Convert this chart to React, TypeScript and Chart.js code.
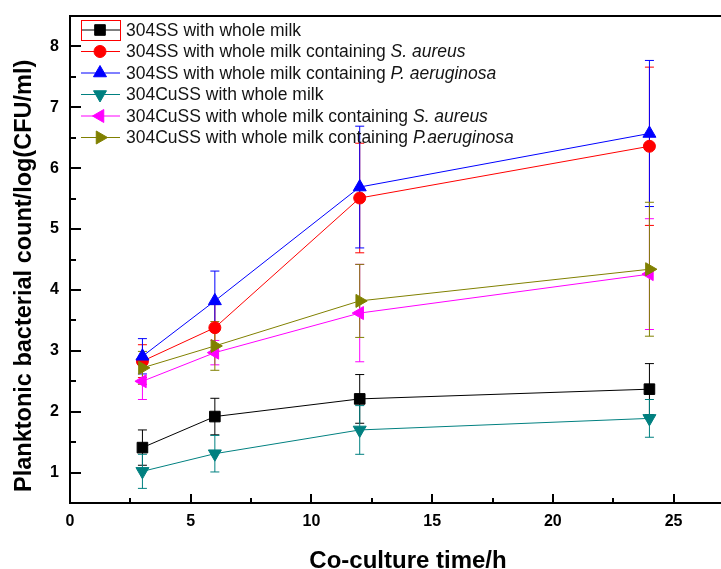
import React, { useEffect, useRef } from 'react';
import { Chart, registerables } from 'chart.js';
import { drawPoint } from 'chart.js/helpers';

Chart.register(...registerables);

// ---- data ----
const timePoints = [3, 6, 12, 24];

const ssMilk = [1.41, 1.92, 2.21, 2.37];
const ssMilkErr = [0.29, 0.3, 0.4, 0.42];
const ssAureus = [2.83, 3.38, 5.51, 6.36];
const ssAureusErr = [0.27, 0.38, 0.9, 1.3];
const ssAerug = [2.91, 3.82, 5.69, 6.57];
const ssAerugErr = [0.29, 0.49, 1.0, 1.2];
const cussMilk = [1.02, 1.31, 1.7, 1.89];
const cussMilkErr = [0.28, 0.3, 0.4, 0.31];
const cussAureus = [2.5, 2.97, 3.62, 4.26];
const cussAureusErr = [0.3, 0.2, 0.8, 0.91];
const cussAerug = [2.72, 3.08, 3.82, 4.34];
const cussAerugErr = [0.27, 0.4, 0.6, 1.1];

const xTicks = [0, 5, 10, 15, 20, 25];
const xMinorTicks = [2.5, 7.5, 12.5, 17.5, 22.5, 27.5];
const yTicks = [1, 2, 3, 4, 5, 6, 7, 8];
const yMinorTicks = [1.5, 2.5, 3.5, 4.5, 5.5, 6.5, 7.5];

const xTitle = 'Co-culture time/h';
const yTitle = 'Planktonic bacterial count/log(CFU/ml)';

type Seg = { t: string; i?: boolean };
const labelSS1: Seg[] = [{ t: '304SS with whole milk' }];
const labelSS2: Seg[] = [{ t: '304SS with whole milk containing ' }, { t: 'S. aureus', i: true }];
const labelSS3: Seg[] = [{ t: '304SS with whole milk containing ' }, { t: 'P. aeruginosa', i: true }];
const labelCu1: Seg[] = [{ t: '304CuSS with whole milk' }];
const labelCu2: Seg[] = [{ t: '304CuSS with whole milk containing ' }, { t: 'S. aureus', i: true }];
const labelCu3: Seg[] = [{ t: '304CuSS with whole milk containing ' }, { t: 'P.aeruginosa', i: true }];

const FONT = "'Liberation Sans', Arial, sans-serif";

const series = [
  { seg: labelSS1, values: ssMilk, errors: ssMilkErr, color: '#000000', style: 'rect', rot: 0, r: 7.5 },
  { seg: labelSS2, values: ssAureus, errors: ssAureusErr, color: '#ff0000', style: 'circle', rot: 0, r: 6 },
  { seg: labelSS3, values: ssAerug, errors: ssAerugErr, color: '#0000ff', style: 'triangle', rot: 0, r: 7.5 },
  { seg: labelCu1, values: cussMilk, errors: cussMilkErr, color: '#008080', style: 'triangle', rot: 180, r: 7.5 },
  { seg: labelCu2, values: cussAureus, errors: cussAureusErr, color: '#ff00ff', style: 'triangle', rot: -90, r: 7.5 },
  { seg: labelCu3, values: cussAerug, errors: cussAerugErr, color: '#808000', style: 'triangle', rot: 90, r: 7.5 },
];

const errorBarPlugin = {
  id: 'errorBars',
  beforeDatasetsDraw(chart: any) {
    const { ctx, scales } = chart;
    const xs = scales.x;
    const ys = scales.y;
    ctx.save();
    ctx.lineWidth = 1;
    chart.data.datasets.forEach((ds: any) => {
      ctx.strokeStyle = ds.borderColor;
      ds.data.forEach((p: any, j: number) => {
        const e = ds.errors[j];
        const px = xs.getPixelForValue(p.x);
        const top = ys.getPixelForValue(p.y + e);
        const bot = ys.getPixelForValue(p.y - e);
        ctx.beginPath();
        ctx.moveTo(px, top);
        ctx.lineTo(px, bot);
        ctx.moveTo(px - 4.5, top);
        ctx.lineTo(px + 4.5, top);
        ctx.moveTo(px - 4.5, bot);
        ctx.lineTo(px + 4.5, bot);
        ctx.stroke();
      });
    });
    ctx.restore();
  },
};

const framePlugin = {
  id: 'frameTicks',
  afterDraw(chart: any) {
    const { ctx, chartArea, scales } = chart;
    const xs = scales.x;
    const ys = scales.y;
    const { left, right, top, bottom } = chartArea;
    ctx.save();
    ctx.strokeStyle = '#000';
    ctx.lineWidth = 2;
    ctx.beginPath();
    ctx.moveTo(left - 1, top);
    ctx.lineTo(right + 1, top);
    ctx.moveTo(right, top);
    ctx.lineTo(right, bottom);
    ctx.stroke();
    ctx.beginPath();
    xTicks.forEach((v) => {
      const px = Math.round(xs.getPixelForValue(v));
      ctx.moveTo(px, bottom);
      ctx.lineTo(px, bottom - 9);
    });
    xMinorTicks.forEach((v) => {
      const px = Math.round(xs.getPixelForValue(v));
      ctx.moveTo(px, bottom);
      ctx.lineTo(px, bottom - 5);
    });
    yTicks.forEach((v) => {
      const py = Math.round(ys.getPixelForValue(v));
      ctx.moveTo(left, py);
      ctx.lineTo(left + 11, py);
    });
    yMinorTicks.forEach((v) => {
      const py = Math.round(ys.getPixelForValue(v));
      ctx.moveTo(left, py);
      ctx.lineTo(left + 6, py);
    });
    ctx.stroke();
    ctx.restore();
  },
};

const legendPlugin = {
  id: 'customLegend',
  afterDraw(chart: any) {
    const { ctx, chartArea } = chart;
    const { left, top } = chartArea;
    ctx.save();
    chart.data.datasets.forEach((ds: any, i: number) => {
      const y = top + 14 + i * 21.5;
      ctx.strokeStyle = ds.borderColor;
      ctx.fillStyle = ds.borderColor;
      ctx.lineWidth = 1;
      ctx.beginPath();
      ctx.moveTo(left + 11, y);
      ctx.lineTo(left + 50, y);
      ctx.stroke();
      drawPoint(ctx, { pointStyle: ds.pointStyle, rotation: ds.pointRotation, radius: ds.pointRadius, borderWidth: 1 } as any, left + 30, y);
      let tx = left + 56;
      ctx.fillStyle = '#141414';
      ctx.textBaseline = 'middle';
      ctx.textAlign = 'left';
      (ds.segments as Seg[]).forEach((s) => {
        ctx.font = (s.i ? 'italic ' : '') + '17.5px ' + FONT;
        ctx.fillText(s.t, tx, y + 1);
        tx += ctx.measureText(s.t).width;
      });
    });
    // selection box around first legend symbol
    ctx.strokeStyle = '#ff0000';
    ctx.lineWidth = 1;
    ctx.strokeRect(left + 11.5, top + 4.5, 39, 20);
    ctx.restore();
  },
};

export default function App() {
  const ref = useRef<HTMLCanvasElement | null>(null);
  useEffect(() => {
    if (!ref.current) return;
    const chart = new Chart(ref.current, {
      type: 'line',
      data: {
        datasets: series.map((s, i) => ({
          label: s.seg.map((g) => g.t).join(''),
          segments: s.seg,
          errors: s.errors,
          data: timePoints.map((t, j) => ({ x: t, y: s.values[j] })),
          borderColor: s.color,
          backgroundColor: s.color,
          pointBackgroundColor: s.color,
          pointBorderColor: s.color,
          pointStyle: s.style,
          pointRotation: s.rot,
          pointRadius: s.r,
          pointBorderWidth: 1,
          borderWidth: 1,
          fill: false,
          tension: 0,
          order: series.length - i,
        })) as any,
      },
      options: {
        animation: false,
        responsive: false,
        maintainAspectRatio: false,
        layout: { padding: { left: 0, top: 16, right: 34, bottom: 0 } },
        plugins: { legend: { display: false }, tooltip: { enabled: false } },
        scales: {
          x: {
            type: 'linear',
            min: 0,
            max: 28,
            afterBuildTicks: (s: any) => {
              s.ticks = xTicks.map((v) => ({ value: v }));
            },
            afterFit: (s: any) => {
              s.height = 66;
              s.paddingLeft = 0;
              s.paddingRight = 0;
              s.paddingTop = 0;
              s.paddingBottom = 0;
            },
            grid: { display: false, drawTicks: false },
            border: { display: true, color: '#000', width: 2 },
            ticks: {
              padding: 9,
              color: '#000',
              font: { family: FONT, size: 16, weight: 'bold' },
              maxRotation: 0,
              autoSkip: false,
            },
            title: {
              display: true,
              text: xTitle,
              color: '#000',
              font: { family: FONT, size: 24, weight: 'bold', lineHeight: 1 },
              padding: { top: 0, bottom: -4.5 },
            },
          },
          y: {
            type: 'linear',
            min: 0.5,
            max: 8.5,
            afterBuildTicks: (s: any) => {
              s.ticks = yTicks.map((v) => ({ value: v }));
            },
            afterFit: (s: any) => {
              s.width = 70;
              s.paddingLeft = 0;
              s.paddingRight = 0;
              s.paddingTop = 0;
              s.paddingBottom = 0;
            },
            grid: { display: false, drawTicks: false },
            border: { display: true, color: '#000', width: 2 },
            ticks: {
              padding: 11,
              color: '#000',
              font: { family: FONT, size: 16, weight: 'bold' },
              autoSkip: false,
            },
            title: {
              display: true,
              text: yTitle + '     ',
              color: '#000',
              font: { family: FONT, size: 23.5, weight: 'bold', lineHeight: 1 },
              padding: { top: 12.5, bottom: 0 },
            },
          },
        },
      } as any,
      plugins: [errorBarPlugin, framePlugin, legendPlugin],
    });
    return () => chart.destroy();
  }, []);
  return (
    <div
      style={{
        position: 'absolute',
        left: 0,
        top: 0,
        width: 721,
        height: 569,
        overflow: 'hidden',
        background: '#fff',
      }}
    >
      <canvas ref={ref} width={780} height={569} style={{ display: 'block' }} />
    </div>
  );
}
